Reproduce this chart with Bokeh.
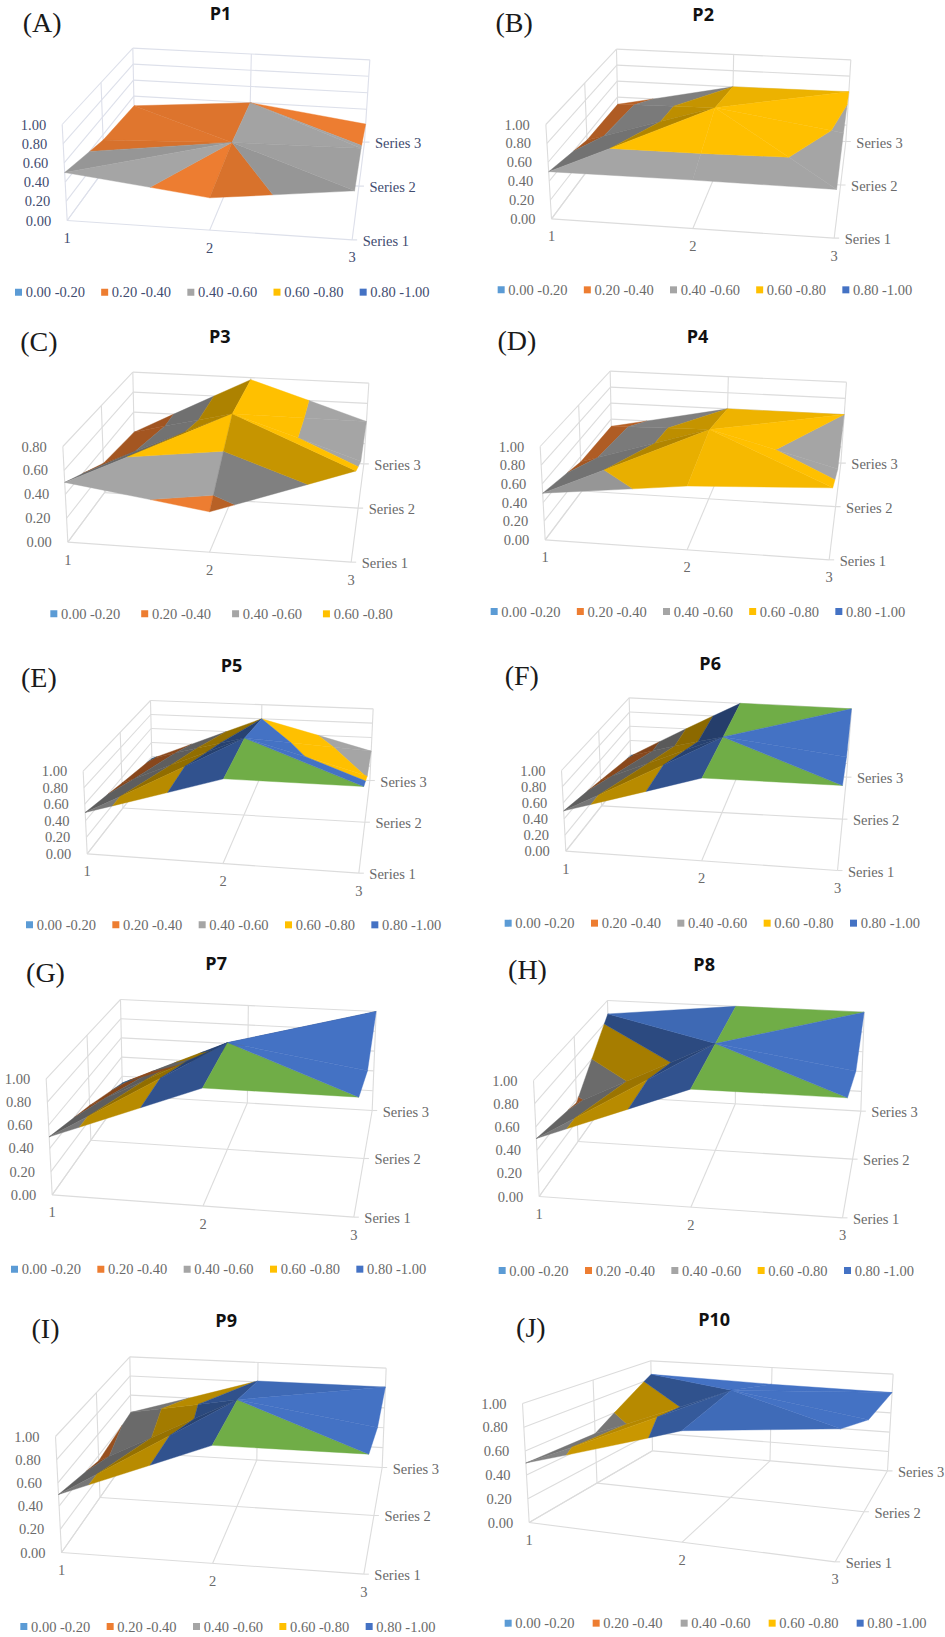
from bokeh.plotting import figure
from bokeh.layouts import column, row
from bokeh.models import ColumnDataSource
from bokeh.core.properties import value
from bokeh.embed import file_html
from bokeh.resources import INLINE

# ---- chart values: one list per series, one value per category (1, 2, 3)
P1_S1 = [0.50, 0.33, 0.49]
P1_S2 = [0.34, 0.40, 0.42]
P1_S3 = [0.28, 0.40, 0.22]
P2_S1 = [0.50, 0.50, 0.49]
P2_S2 = [0.34, 0.79, 0.58]
P2_S3 = [0.31, 0.60, 0.61]
P3_S1 = [0.50, 0.33, 0.73]
P3_S2 = [0.27, 0.785, 0.42]
P3_S3 = [0.20, 0.78, 0.42]
P4_S1 = [0.50, 0.66, 0.72]
P4_S2 = [0.34, 0.79, 0.42]
P4_S3 = [0.31, 0.60, 0.60]
P5_S1 = [0.50, 1.00, 1.00]
P5_S2 = [0.33, 1.00, 0.59]
P5_S3 = [0.17, 0.80, 0.41]
P6_S1 = [0.50, 1.00, 1.00]
P6_S2 = [0.34, 1.00, 0.82]
P6_S3 = [0.18, 1.00, 1.00]
P7_S1 = [0.50, 1.00, 1.00]
P7_S2 = [0.33, 1.00, 0.81]
P7_S3 = [0.13, 0.60, 1.00]
P8_S1 = [0.50, 1.00, 1.00]
P8_S2 = [0.37, 1.00, 0.81]
P8_S3 = [0.86, 1.00, 1.00]
P9_S1 = [0.50, 1.00, 1.00]
P9_S2 = [0.35, 1.00, 0.81]
P9_S3 = [0.42, 0.81, 0.81]
P10_S1 = [0.50, 0.88, 0.99]
P10_S2 = [0.48, 0.99, 0.81]
P10_S3 = [0.85, 0.82, 0.81]

CATEGORIES = ["1", "2", "3"]
SERIES = ["Series 1", "Series 2", "Series 3"]
TITLES = ["P1", "P2", "P3", "P4", "P5", "P6", "P7", "P8", "P9", "P10"]
LETTERS = ["(A)", "(B)", "(C)", "(D)", "(E)", "(F)", "(G)", "(H)", "(I)", "(J)"]
BAND_LABELS = ["0.00 -0.20", "0.20 -0.40", "0.40 -0.60", "0.60 -0.80", "0.80 -1.00"]
BAND_COLORS = ["#5B9BD5", "#ED7D31", "#A5A5A5", "#FFC000", "#4472C4", "#70AD47"]
BAND_EDGES = [0.0, 0.2, 0.4, 0.6, 0.8, 1.0, 9.0]
Z_TICKS = [0.0, 0.2, 0.4, 0.6, 0.8, 1.0]
Z_TICKS_P3 = [0.0, 0.2, 0.4, 0.6, 0.8]

SURFACES = [
    (P1_S1, P1_S2, P1_S3), (P2_S1, P2_S2, P2_S3), (P3_S1, P3_S2, P3_S3), (P4_S1, P4_S2, P4_S3),
    (P5_S1, P5_S2, P5_S3), (P6_S1, P6_S2, P6_S3), (P7_S1, P7_S2, P7_S3), (P8_S1, P8_S2, P8_S3),
    (P9_S1, P9_S2, P9_S3), (P10_S1, P10_S2, P10_S3),
]

# ---- layout: camera box corners of each panel (crop coords x3), label places
OFFSETS = [(0, 0), (472, 0), (0, 320), (472, 320), (0, 640), (472, 640),
           (0, 950), (472, 950), (0, 1297), (472, 1297)]
# FL0, FL1, BL0, BL1, FR0, FR1, BR0, BR1
CAMERAS = [
    ((200, 660), (185, 372), (402, 383), (397, 143), (1055, 718), (1070, 418), (1092, 425), (1108, 178)),
    ((237, 655), (220, 372), (437, 386), (432, 146), (1085, 713), (1100, 415), (1120, 423), (1135, 178)),
    ((202, 665), (187, 378), (402, 395), (397, 155), (1052, 725), (1068, 425), (1090, 430), (1105, 188)),
    ((218, 658), (203, 378), (418, 392), (413, 152), (1070, 718), (1085, 418), (1105, 428), (1122, 185)),
    ((260, 640), (248, 392), (455, 390), (450, 180), (1075, 698), (1090, 438), (1108, 420), (1118, 205)),
    ((280, 632), (267, 390), (475, 385), (470, 172), (1095, 690), (1110, 435), (1122, 410), (1137, 205)),
    ((155, 733), (137, 385), (366, 435), (360, 147), (1060, 800), (1075, 440), (1115, 480), (1127, 183)),
    ((200, 738), (183, 390), (412, 438), (405, 150), (1110, 802), (1125, 442), (1165, 482), (1175, 185)),
    ((183, 765), (165, 417), (393, 465), (388, 178), (1090, 830), (1105, 470), (1145, 510), (1157, 212)),
    ((170, 675), (150, 318), (540, 460), (535, 190), (1088, 793), (1105, 390), (1245, 520), (1262, 230)),
]
TITLE_POS = [(660, 37), (692, 40), (658, 47), (675, 45), (693, 72), (713, 67), (647, 38), (695, 40), (677, 67), (725, 63)]
LETTER_POS = [(125, 65), (125, 67), (115, 62), (133, 60), (115, 110), (148, 105), (135, 65), (165, 58), (135, 93), (175, 90)]
LEGEND_POS = [(44, 875, 258.5), (76, 868, 258.5), (150, 880, 272.6), (55, 873, 258.5), (77, 853, 259),
              (97, 848, 259), (32, 956, 259), (79, 960, 259), (60, 987, 259), (97, 977, 264)]
ROW_Y = [0, 318, 640, 945, 1297, 1637]
COL_X = [0, 472, 945]


def darken(hex_color, f):
    r, g, b = (int(hex_color[i:i + 2], 16) for i in (1, 3, 5))
    return "#%02x%02x%02x" % (int(r * f), int(g * f), int(b * f))


def warp(v):
    return v / (v + (1 - v) * 0.818)


def make_projector(idx, zmax):
    ox, oy = OFFSETS[idx]
    pts = [(ox + x / 3, oy + y / 3) for x, y in CAMERAS[idx]]
    fl0, fl1, bl0, bl1, fr0, fr1, br0, br1 = pts

    def bil(a, b, c, d, u, v):
        return tuple((1 - v) * ((1 - u) * a[i] + u * b[i]) + v * ((1 - u) * c[i] + u * d[i]) for i in (0, 1))

    def project(u, v, z):
        w = warp(v)
        lo = bil(fl0, fr0, bl0, br0, u, w)
        hi = bil(fl1, fr1, bl1, br1, u, w)
        t = z / zmax
        return lo[0] + (hi[0] - lo[0]) * t, lo[1] + (hi[1] - lo[1]) * t

    return project


def clip(poly, lo, hi):
    def cut(pts, keep, edge):
        out = []
        for i, a in enumerate(pts):
            b = pts[(i + 1) % len(pts)]
            ka, kb = keep(a[2]), keep(b[2])
            if ka:
                out.append(a)
            if ka != kb:
                t = (edge - a[2]) / (b[2] - a[2])
                out.append(tuple(a[k] + (b[k] - a[k]) * t for k in range(3)))
        return out
    pts = cut(poly, lambda z: z >= lo, lo)
    if pts:
        pts = cut(pts, lambda z: z <= hi, hi)
    return pts


def triangles(rows, idx):
    # (column index, series index) vertices; radial diagonals; back facets first
    back_right = [((1, 2), (2, 2), (1, 1)), ((2, 2), (2, 1), (1, 1))]
    if idx == 0:  # P1 folds along the other diagonal of this cell
        back_right = [((1, 2), (2, 1), (1, 1)), ((1, 2), (2, 2), (2, 1))]
    tris = [((0, 2), (0, 1), (1, 1)), ((0, 2), (1, 2), (1, 1))] + back_right + \
           [((0, 0), (0, 1), (1, 1)), ((0, 0), (1, 0), (1, 1)), ((2, 0), (1, 0), (1, 1)), ((2, 0), (2, 1), (1, 1))]
    out = []
    for t in tris:
        out.append([(c / 2, s / 2, rows[s][c]) for c, s in t])
    return out


def shade(tri):
    (u0, v0, z0), (u1, v1, z1), (u2, v2, z2) = tri
    a1, b1, c1 = u1 - u0, v1 - v0, z1 - z0
    a2, b2, c2 = u2 - u0, v2 - v0, z2 - z0
    det = a1 * b2 - a2 * b1
    dzdu = (c1 * b2 - c2 * b1) / det / 2   # per category step
    dzdv = (a1 * c2 - a2 * c1) / det / 2
    f = 1 - 0.55 * max(0, dzdu)
    if dzdu >= 0:
        f -= 0.35 * max(0, -dzdv)
    return max(0.55, min(1, f))


def build(idx, x0, x1, y0, y1):
    zmax = 0.8 if idx == 2 else 1.0
    ticks = Z_TICKS_P3 if idx == 2 else Z_TICKS
    project = make_projector(idx, zmax)
    ox, oy = OFFSETS[idx]
    p = figure(width=x1 - x0, height=y1 - y0, x_range=(x0, x1), y_range=(y1, y0),
               output_backend="svg", toolbar_location=None, min_border=0,
               background_fill_color="white", border_fill_color="white", outline_line_color=None)
    p.axis.visible = False
    p.grid.visible = False

    tint = "#dde0ea" if idx == 0 else "#dcdcdc"
    ink = "#3f4c70" if idx == 0 else "#6a6a6a"

    # walls and floor
    xs, ys = [], []

    def seg(a, b):
        pa, pb = project(*a), project(*b)
        xs.append([pa[0], pb[0]])
        ys.append([pa[1], pb[1]])
    for t in ticks:
        seg((0, 0, t), (0, 1, t))
        seg((0, 1, t), (1, 1, t))
    for u in (0, 0.5, 1):
        seg((u, 1, 0), (u, 1, zmax))
        seg((u, 0, 0), (u, 1, 0))
    for v in (0, 0.5):
        seg((0, v, 0), (0, v, zmax))
        seg((0, v, 0), (1, v, 0))
    for i in range(3):
        a = project(1, i / 2, 0)
        xs.append([a[0], a[0] + 5])
        ys.append([a[1], a[1]])
    p.multi_line(xs, ys, line_color=tint, line_width=1.1)

    # surface facets split into the value bands
    px, py, pc = [], [], []
    for tri in triangles(SURFACES[idx], idx):
        f = shade(tri)
        for b in range(len(BAND_COLORS)):
            lo, hi = BAND_EDGES[b], BAND_EDGES[b + 1]
            poly = clip(tri, lo, hi)
            if len(poly) < 3:
                continue
            zs = [q[2] for q in poly]
            if max(zs) - min(zs) < 1e-9 and abs(zs[0] - hi) < 1e-9:
                continue
            scr = [project(*q) for q in poly]
            area = sum(scr[i][0] * scr[(i + 1) % len(scr)][1] - scr[(i + 1) % len(scr)][0] * scr[i][1]
                       for i in range(len(scr)))
            if abs(area) < 0.01:
                continue
            px.append([q[0] for q in scr])
            py.append([q[1] for q in scr])
            pc.append(darken(BAND_COLORS[b], f))
    p.patches("x", "y", source=ColumnDataSource(dict(x=px, y=py, c=pc)),
              fill_color="c", line_color="c", line_width=0.4)

    serif = value("Liberation Serif")
    # value axis labels
    lx, ly, lt = [], [], []
    for t in ticks:
        x, y = project(0, 0, t)
        lx.append(x - 16)
        ly.append(y)
        lt.append("%.2f" % t)
    p.text(lx, ly, text=lt, text_font=serif, text_font_size="14.5px", text_color=ink,
           text_align="right", text_baseline="middle")
    # category labels
    lx, ly = [], []
    for i in range(3):
        x, y = project(i / 2, 0, 0)
        lx.append(x)
        ly.append(y + 17.5)
    p.text(lx, ly, text=CATEGORIES, text_font=serif, text_font_size="14.5px", text_color=ink,
           text_align="center", text_baseline="middle")
    # series labels
    lx, ly = [], []
    for i in range(3):
        x, y = project(1, i / 2, 0)
        lx.append(min(x + 10.5, x1 - 47.5))
        ly.append(y + 1)
    p.text(lx, ly, text=SERIES, text_font=serif, text_font_size="14.5px", text_color=ink,
           text_align="left", text_baseline="middle")

    # title and panel letter
    tx, ty = TITLE_POS[idx]
    p.text([ox + tx / 3], [oy + ty / 3], text=[TITLES[idx]], text_font=value("Open Sans"),
           text_font_size="18px", text_font_style="bold", text_color="#111111",
           text_align="center", text_baseline="middle")
    lx_, ly_ = LETTER_POS[idx]
    p.text([ox + lx_ / 3], [oy + ly_ / 3], text=[LETTERS[idx]], text_font=serif,
           text_font_size="28px", text_color="#1a1a1a", text_align="center", text_baseline="middle")

    # legend
    sx, sy, step = LEGEND_POS[idx]
    n = 4 if idx == 2 else 5
    mx = [ox + (sx + 10 + step * i) / 3 for i in range(n)]
    my = [oy + sy / 3] * n
    p.scatter(mx, my, marker="square", size=7, fill_color=BAND_COLORS[:n], line_color=None)
    p.text([m + 7.2 for m in mx], my, text=BAND_LABELS[:n], text_font=serif, text_font_size="14.5px",
           text_color=ink, text_align="left", text_baseline="middle")
    return p


rows = []
for r in range(5):
    figs = [build(r * 2 + c, COL_X[c], COL_X[c + 1], ROW_Y[r], ROW_Y[r + 1]) for c in range(2)]
    rows.append(row(*figs))
layout = column(*rows)
open("out.html", "w").write(file_html(layout, INLINE))
